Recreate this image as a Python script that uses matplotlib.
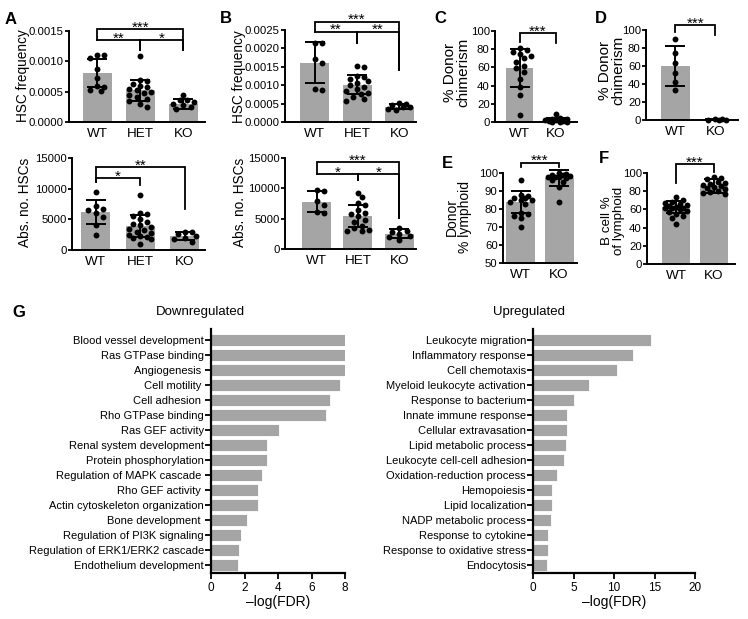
import matplotlib
matplotlib.use('Agg')
import matplotlib.pyplot as plt
import numpy as np
from matplotlib.ticker import FormatStrFormatter

plt.rcParams['font.family'] = ['Liberation Sans', 'DejaVu Sans']

W, H = 748, 619
GREY = '#a5a5a5'

groups3 = ['WT', 'HET', 'KO']
groups2 = ['WT', 'KO']

# A, HSC frequency
a1_wt = [0.00110, 0.00110, 0.00106, 0.00088, 0.00072, 0.00059, 0.00057, 0.00053, 0.00051]
a1_het = [0.00108, 0.00070, 0.00068, 0.00063, 0.00060, 0.00057, 0.00055, 0.00052, 0.00050,
          0.00047, 0.00045, 0.00042, 0.00038, 0.00035, 0.00030, 0.00025]
a1_ko = [0.00045, 0.00037, 0.00036, 0.00033, 0.00030, 0.00028, 0.00024, 0.00021]
a1_mean = [0.00081, 0.00052, 0.00030]
a1_sd = [0.00023, 0.00018, 0.00008]

# A, absolute HSC numbers
a2_wt = [9500, 7100, 6700, 6500, 6000, 5300, 4100, 2500]
a2_het = [9000, 6000, 5800, 5500, 5000, 4500, 4300, 4000, 3800, 3500, 3200, 3000,
          2800, 2500, 2300, 2100, 2000, 1800, 1000]
a2_ko = [3000, 2900, 2600, 2300, 2000, 1800, 1300]
a2_mean = [6200, 3950, 2250]
a2_sd = [1950, 1750, 700]

# B, HSC frequency
b1_wt = [0.00215, 0.00214, 0.00170, 0.00160, 0.00089, 0.00088]
b1_het = [0.00153, 0.00150, 0.00125, 0.00122, 0.00118, 0.00112, 0.00105, 0.00100,
          0.00095, 0.00090, 0.00085, 0.00080, 0.00075, 0.00068, 0.00062, 0.00058]
b1_ko = [0.00052, 0.00048, 0.00045, 0.00042, 0.00040, 0.00036, 0.00032]
b1_mean = [0.00161, 0.00101, 0.00042]
b1_sd = [0.00056, 0.00026, 0.00006]

# B, absolute HSC numbers
b2_wt = [9800, 9500, 7900, 7200, 6100, 5900]
b2_het = [9300, 8500, 7600, 7300, 6500, 6000, 5800, 5400, 4800, 4500, 3800, 3500,
          3100, 3000, 2900]
b2_ko = [3500, 3000, 2800, 2500, 2200, 1900, 1500]
b2_mean = [7800, 5450, 2550]
b2_sd = [1700, 1800, 700]

# C, D donor chimerism
c_wt = [81, 79, 77, 75, 73, 70, 66, 62, 59, 55, 47, 38, 30, 8]
c_ko = [9, 4, 3, 3, 2, 2, 1.5, 1, 0.5, 0.5, 0.3]
c_mean = [59.5, 2.4]
c_sd = [21, 2.5]

d_wt = [90, 75, 63, 52, 42, 33]
d_ko = [0.8, 0.6, 0.4, 0.3, 0.2]
d_mean = [60, 0.5]
d_sd = [22, 0.3]

# E donor % lymphoid, F B cell % of lymphoid
e_wt = [96, 88, 87, 86, 86, 85, 85, 84, 83, 78, 77, 76, 75, 70]
e_ko = [100, 99.5, 99, 99, 98.5, 98, 98, 97.5, 97, 96, 95, 92, 84]
e_mean = [84, 97.2]
e_sd = [6, 4.5]

f_wt = [74, 70, 68, 67, 66, 65, 64, 63, 62, 62, 61, 60, 58, 57, 55, 53, 50, 44]
f_ko = [96, 95, 93, 90, 89, 88, 87, 86, 85, 83, 82, 80, 79, 78, 77]
f_mean = [63, 85.5]
f_sd = [6.5, 7.5]

# significance brackets: x1, x2, top, leg1 bottom, leg2 bottom, label
a1_sig = [(0, 2, 0.001533, 0.001352, 0.001187, '***'),
          (0, 1, 0.001352, 0.001352, 0.001187, '**'),
          (1, 2, 0.001352, 0.001187, 0.001187, '*')]
a2_sig = [(0, 2, 13530, 11090, 6685, '**'),
          (0, 1, 11740, 11090, 10600, '*')]
b1_sig = [(0, 2, 0.002725, 0.002454, 0.001413, '***'),
          (0, 1, 0.002454, 0.002454, 0.002138, '**'),
          (1, 2, 0.002454, 0.002138, 0.001413, '**')]
b2_sig = [(0, 2, 14290, 12360, 5110, '***'),
          (0, 1, 12360, 12360, 11370, '*'),
          (1, 2, 12360, 11370, 5110, '*')]
c_sig = [(0, 1, 97.5, 88.2, 86.5, '***')]
d_sig = [(0, 1, 105.5, 98.1, 94.4, '***')]
e_sig = [(0, 1, 105.7, 103.2, 103.5, '***')]
f_sig = [(0, 1, 109.9, 88.7, 101.4, '***')]

# G, GO terms
down_terms = ['Blood vessel development', 'Ras GTPase binding', 'Angiogenesis ',
              'Cell motility ', 'Cell adhesion ', 'Rho GTPase binding', 'Ras GEF activity',
              'Renal system development', 'Protein phosphorylation',
              'Regulation of MAPK cascade ', 'Rho GEF activity ',
              'Actin cytoskeleton organization', 'Bone development ',
              'Regulation of PI3K signaling', 'Regulation of ERK1/ERK2 cascade',
              'Endothelium development']
down_vals = [8.0, 8.0, 8.0, 7.7, 7.1, 6.85, 4.05, 3.35, 3.35, 3.05, 2.8, 2.8, 2.15, 1.8, 1.65, 1.6]

up_terms = ['Leukocyte migration', 'Inflammatory response', 'Cell chemotaxis',
            'Myeloid leukocyte activation', 'Response to bacterium', 'Innate immune response',
            'Cellular extravasation', 'Lipid metabolic process', 'Leukocyte cell-cell adhesion',
            'Oxidation-reduction process', 'Hemopoiesis', 'Lipid localization',
            'NADP metabolic process', 'Response to cytokine', 'Response to oxidative stress',
            'Endocytosis']
up_vals = [14.6, 12.3, 10.4, 6.95, 5.1, 4.2, 4.2, 4.05, 3.85, 2.95, 2.4, 2.35, 2.25, 1.85, 1.85, 1.7]


def box(l, t, r, b):
    return [l / W, 1 - b / H, (r - l) / W, (b - t) / H]


def swarm(ax, xc, vals, d=6.0, maxoff=12.0):
    # simple dot-plot layout: spread tied points sideways, overlap when out of room
    tr = ax.transData
    inv = tr.inverted()
    placed = []
    out = np.empty(len(vals))
    steps = [0]
    k = 1
    while k * d * 0.6 <= maxoff:
        steps += [k, -k]
        k += 1
    for i in np.argsort(vals)[::-1]:
        cx, cy = tr.transform((xc, vals[i]))
        best, bestgap = cx, -1
        for k in steps:
            px = cx + k * d * 0.6
            gap = min([np.hypot(px - qx, cy - qy) for qx, qy in placed] + [99])
            if gap >= d * 0.95:
                best = px
                break
            if gap > bestgap:
                best, bestgap = px, gap
        placed.append((best, cy))
        out[i] = inv.transform((best, cy))[0]
    return out


def dot_panel(ax, groups, pts, means, sds, xlim, ylim, yticks, fmt, sig, barpx=29):
    ax.set_xlim(*xlim)
    ax.set_ylim(*ylim)
    x = np.arange(len(groups))
    pxw = ax.transData.transform((1, 0))[0] - ax.transData.transform((0, 0))[0]
    ax.bar(x, means, width=barpx / pxw, color=GREY, zorder=1)
    for i, vals in enumerate(pts):
        xs = swarm(ax, i, vals, maxoff=barpx * 0.42)
        ax.scatter(xs, vals, s=18, color='k', lw=0, zorder=3, clip_on=False)
    ax.errorbar(x, means, yerr=sds, fmt='none', ecolor='k', elinewidth=1.4,
                capsize=7, capthick=1.4, zorder=4, clip_on=False)
    ax.set_xticks(x)
    ax.set_xticklabels(groups, fontsize=9.7)
    ax.set_yticks(yticks)
    ax.yaxis.set_major_formatter(FormatStrFormatter(fmt))
    ax.tick_params(axis='x', length=0, pad=4)
    ax.tick_params(axis='y', length=3, width=1.3, labelsize=8.2, pad=0.8)
    for s in ['top', 'right']:
        ax.spines[s].set_visible(False)
    for s in ['left', 'bottom']:
        ax.spines[s].set_linewidth(1.4)
    for x1, x2, top, b1, b2, lab in sig:
        ax.plot([x1, x1, x2, x2], [b1, top, top, b2], color='k', lw=1.3,
                clip_on=False, zorder=5, solid_joinstyle='miter')
        ax.annotate(lab, ((x1 + x2) / 2, top), xytext=(0, -1.8), textcoords='offset points',
                    ha='center', va='baseline', fontsize=11, annotation_clip=False)


fig = plt.figure(figsize=(W / 100, H / 100), dpi=100)

ax = fig.add_axes(box(69, 31, 205, 122))
dot_panel(ax, groups3, [a1_wt, a1_het, a1_ko], a1_mean, a1_sd, (-0.65, 2.5),
          (0, 0.0015), np.arange(0, 0.00151, 0.0005), '%.4f', a1_sig)
ax = fig.add_axes(box(72, 158, 205, 250))
dot_panel(ax, groups3, [a2_wt, a2_het, a2_ko], a2_mean, a2_sd, (-0.53, 2.45),
          (0, 15000), [0, 5000, 10000, 15000], '%d', a2_sig)
ax = fig.add_axes(box(285, 30, 416, 122))
dot_panel(ax, groups3, [b1_wt, b1_het, b1_ko], b1_mean, b1_sd, (-0.71, 2.4),
          (0, 0.0025), np.arange(0, 0.00251, 0.0005), '%.4f', b1_sig)
ax = fig.add_axes(box(285, 158, 416, 249))
dot_panel(ax, groups3, [b2_wt, b2_het, b2_ko], b2_mean, b2_sd, (-0.76, 2.4),
          (0, 15000), [0, 5000, 10000, 15000], '%d', b2_sig)
ax = fig.add_axes(box(495, 31, 577, 122))
dot_panel(ax, groups2, [c_wt, c_ko], c_mean, c_sd, (-0.69, 1.58),
          (0, 100), range(0, 101, 20), '%d', c_sig, barpx=27)
ax = fig.add_axes(box(646, 30, 738, 120))
dot_panel(ax, groups2, [d_wt, d_ko], d_mean, d_sd, (-0.73, 1.57),
          (0, 100), range(0, 101, 20), '%d', d_sig)
ax = fig.add_axes(box(503, 173, 577, 263))
dot_panel(ax, groups2, [e_wt, e_ko], e_mean, e_sd, (-0.47, 1.47),
          (50, 100), range(50, 101, 10), '%d', e_sig)
ax = fig.add_axes(box(647, 173, 735, 264))
dot_panel(ax, groups2, [f_wt, f_ko], f_mean, f_sd, (-0.76, 1.55),
          (0, 100), range(0, 101, 20), '%d', f_sig, barpx=28)

ylabels = [('HSC frequency', 23, 76, 9.8), ('Abs. no. HSCs', 25, 202, 9.8),
           ('HSC frequency', 239, 77, 9.8), ('Abs. no. HSCs', 240, 202, 9.8),
           ('% Donor\nchimerism', 457, 72, 11), ('% Donor\nchimerism', 612, 70, 11),
           ('Donor\n% lymphoid', 458, 217, 10), ('B cell %\nof lymphoid', 613, 221, 9.6)]
for txt, xp, yp, fs in ylabels:
    fig.text(xp / W, 1 - yp / H, txt, rotation=90, ha='center', va='center',
             multialignment='center', linespacing=0.92, fontsize=fs)


def go_panel(ax, terms, vals, xmax, step):
    y = np.arange(len(terms))
    ax.barh(y, vals, height=0.86, color=GREY, edgecolor='white', lw=0.6)
    ax.set_ylim(len(terms) - 0.47, -0.73)
    ax.set_xlim(0, xmax)
    ax.set_yticks(y)
    ax.set_yticklabels(terms, fontsize=8)
    ax.set_xticks(np.arange(0, xmax + 0.1, step))
    ax.tick_params(axis='y', length=4, width=1.3, pad=1)
    ax.tick_params(axis='x', length=4, width=1.3, labelsize=8.5, pad=2.5)
    for s in ['top', 'right']:
        ax.spines[s].set_visible(False)
    for s in ['left', 'bottom']:
        ax.spines[s].set_linewidth(1.6)
    ax.set_xlabel('\u2013log(FDR)', fontsize=10, labelpad=1)


ax = fig.add_axes(box(211, 329, 345, 573))
go_panel(ax, down_terms, down_vals, 8, 2)
ax = fig.add_axes(box(533, 329, 695, 573))
go_panel(ax, up_terms, up_vals, 20, 5)

fig.text(200 / W, 1 - 312 / H, 'Downregulated', ha='center', va='center', fontsize=9.5)
fig.text(529 / W, 1 - 312 / H, 'Upregulated', ha='center', va='center', fontsize=9.5)

for lab, xp, yp in [('A', 5, 12), ('B', 220, 11), ('C', 434, 11), ('D', 595, 11),
                    ('E', 442, 156), ('F', 599, 151), ('G', 12, 305)]:
    fig.text(xp / W, 1 - yp / H, lab, ha='left', va='top', fontsize=12, fontweight='bold')

fig.savefig('out.png', dpi=100)
